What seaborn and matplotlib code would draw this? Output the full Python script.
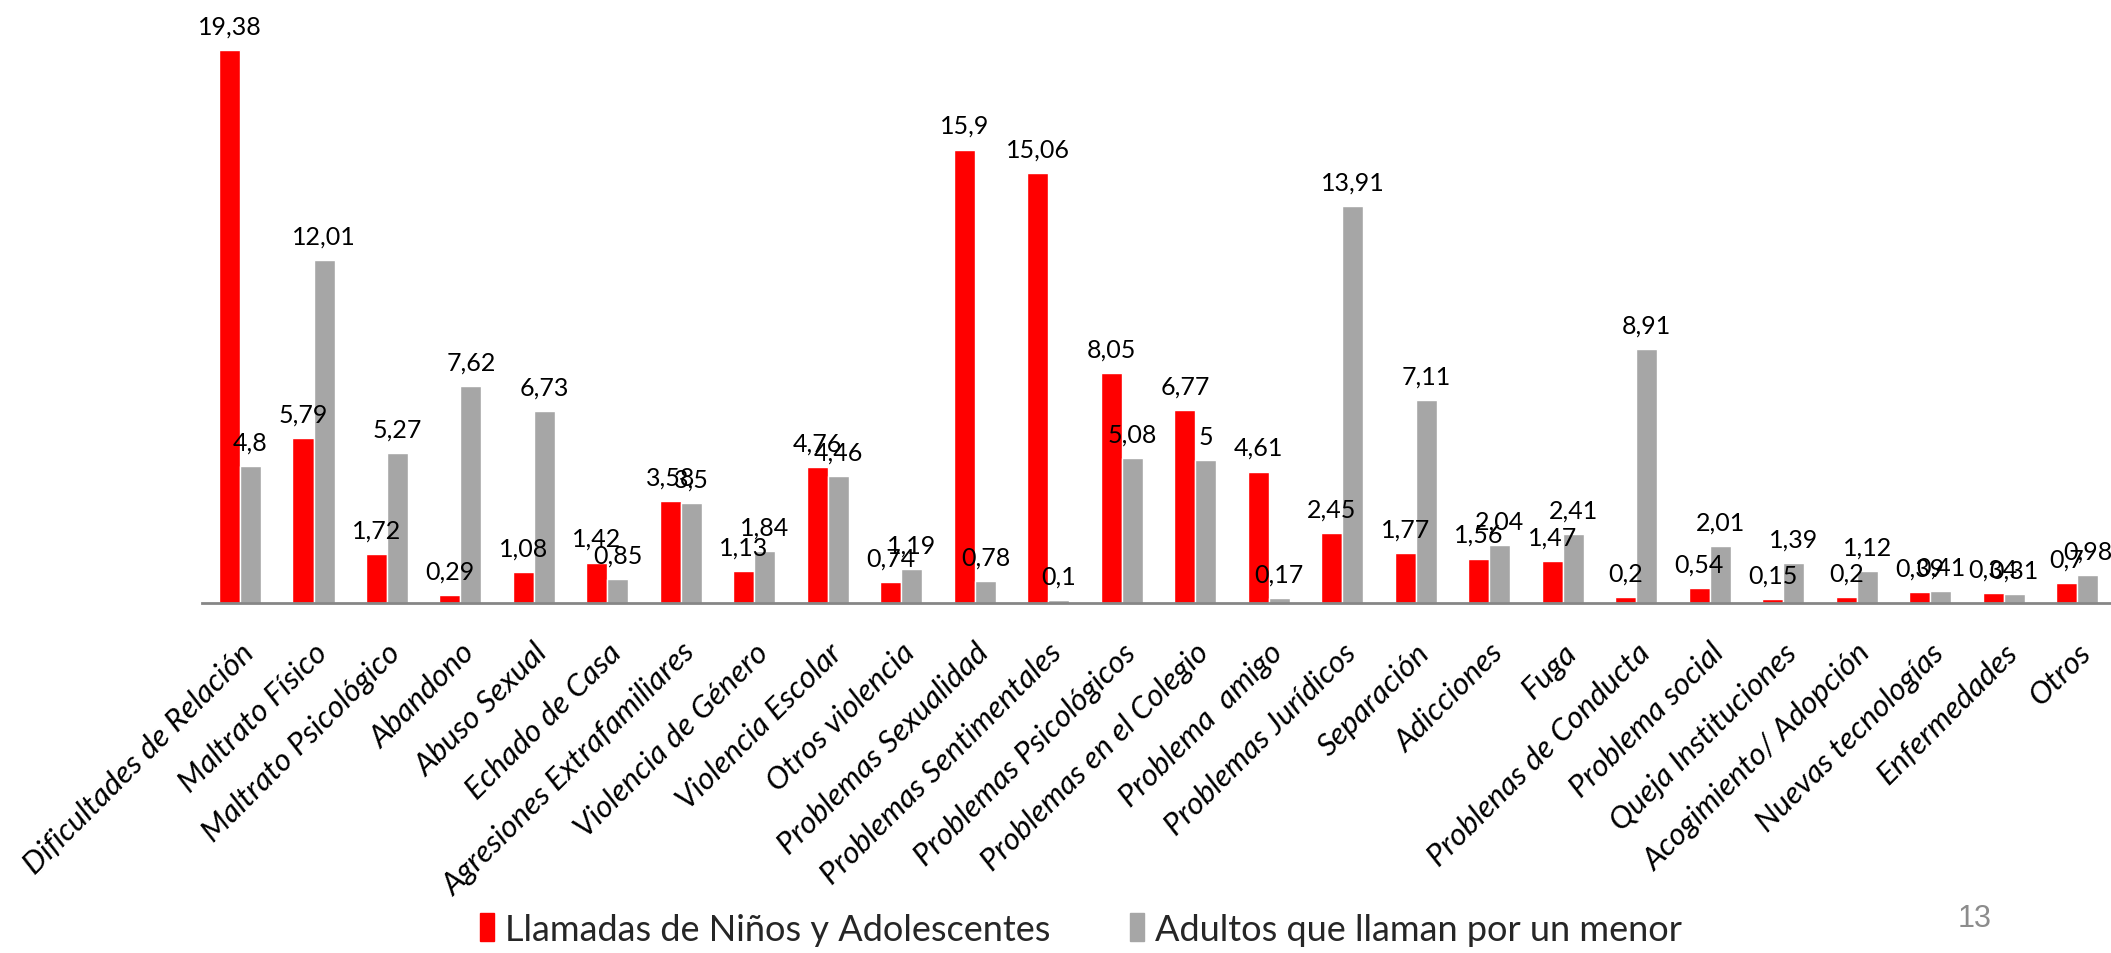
import matplotlib
matplotlib.use("Agg")
import matplotlib.pyplot as plt
import matplotlib.transforms as mtransforms
import seaborn as sns
import pandas as pd

categorias = [
    "Dificultades de Relación", "Maltrato Físico", "Maltrato Psicológico",
    "Abandono", "Abuso Sexual", "Echado de Casa", "Agresiones Extrafamiliares",
    "Violencia de Género", "Violencia Escolar", "Otros violencia",
    "Problemas Sexualidad", "Problemas Sentimentales", "Problemas Psicológicos",
    "Problemas en el Colegio", "Problema  amigo", "Problemas Jurídicos",
    "Separación", "Adicciones", "Fuga", "Problenas de Conducta",
    "Problema social", "Queja Instituciones", "Acogimiento/ Adopción",
    "Nuevas tecnologías", "Enfermedades", "Otros",
]
ninos = [19.38, 5.79, 1.72, 0.29, 1.08, 1.42, 3.58, 1.13, 4.76, 0.74,
         15.9, 15.06, 8.05, 6.77, 4.61, 2.45, 1.77, 1.56, 1.47, 0.2,
         0.54, 0.15, 0.2, 0.39, 0.34, 0.7]
adultos = [4.8, 12.01, 5.27, 7.62, 6.73, 0.85, 3.5, 1.84, 4.46, 1.19,
           0.78, 0.1, 5.08, 5, 0.17, 13.91, 7.11, 2.04, 2.41, 8.91,
           2.01, 1.39, 1.12, 0.41, 0.31, 0.98]
series = ["Llamadas de Niños y Adolescentes", "Adultos que llaman por un menor"]
colores = ["#FF0000", "#A6A6A6"]

df = pd.DataFrame({
    "categoria": categorias * 2,
    "serie": [series[0]] * len(categorias) + [series[1]] * len(categorias),
    "valor": ninos + adultos,
})

sns.set_style("white")
plt.rcParams["font.family"] = ["Lato", "DejaVu Sans"]

fig = plt.figure(figsize=(21.11, 9.54), dpi=100)
ax = fig.add_axes([0.0957, 0.3668, 0.9043, 0.607])

sns.barplot(data=df, x="categoria", y="valor", hue="serie", order=categorias,
            hue_order=series, palette=colores, width=0.572, gap=0,
            errorbar=None, saturation=1, ax=ax)

# etiquetas de datos con coma decimal
for cont, vals in zip(ax.containers, [ninos, adultos]):
    etiquetas = [f"{v:g}".replace(".", ",") for v in vals]
    ax.bar_label(cont, labels=etiquetas, padding=9, fontsize=18, color="black")

ax.set_xlim(-0.517, 25.46)
ax.set_ylim(0, 20.3)
ax.set_xlabel("")
ax.set_ylabel("")
ax.set_yticks([])
for s in ["top", "right", "left"]:
    ax.spines[s].set_visible(False)
ax.spines["bottom"].set_color("#868686")
ax.spines["bottom"].set_linewidth(2)

ax.tick_params(axis="x", length=0, pad=32)
desplaz = mtransforms.ScaledTranslation(9 / 100, 0, fig.dpi_scale_trans)
for lab in ax.get_xticklabels():
    lab.set_rotation(45)
    lab.set_ha("right")
    lab.set_va("center")
    lab.set_rotation_mode("anchor")
    lab.set_fontstyle("italic")
    lab.set_fontsize(22.5)
    lab.set_color("black")
    lab.set_transform(lab.get_transform() + desplaz)

ax.get_legend().remove()
handles = [plt.Rectangle((0, 0), 1, 1, color=c) for c in colores]
fig.legend(handles, series, loc="center", bbox_to_anchor=(0.512, 0.025),
           ncol=2, frameon=False, fontsize=26, handlelength=0.4,
           handleheight=0.8, handletextpad=0.3, columnspacing=2.2)

fig.text(0.9275, 0.0372, "13", fontsize=22, color="#8C8C8C", ha="left",
         va="center", family="Liberation Sans")

fig.savefig("out.png", dpi=100)
